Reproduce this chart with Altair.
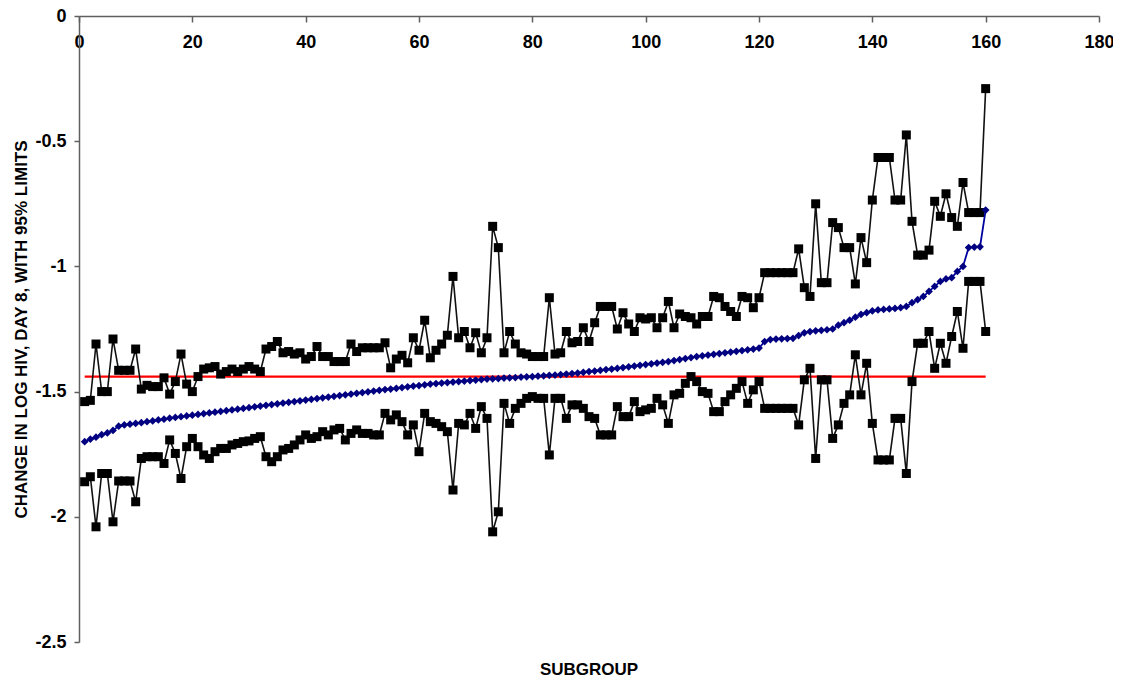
import altair as alt
import pandas as pd

# ---- data ----
subgroup = list(range(1, 161))

estimate = [
    -1.700, -1.690, -1.682, -1.672, -1.665, -1.655, -1.638, -1.633, -1.630, -1.627,
    -1.624, -1.620, -1.617, -1.613, -1.610, -1.606, -1.603, -1.600, -1.597, -1.594,
    -1.591, -1.588, -1.585, -1.582, -1.579, -1.576, -1.573, -1.570, -1.567, -1.564,
    -1.561, -1.558, -1.555, -1.552, -1.549, -1.546, -1.543, -1.540, -1.537, -1.534,
    -1.531, -1.528, -1.525, -1.522, -1.519, -1.516, -1.513, -1.510, -1.507, -1.504,
    -1.501, -1.498, -1.495, -1.492, -1.490, -1.487, -1.484, -1.481, -1.478, -1.476,
    -1.473, -1.470, -1.468, -1.466, -1.464, -1.462, -1.460, -1.458, -1.456, -1.454,
    -1.452, -1.450, -1.449, -1.448, -1.446, -1.445, -1.444, -1.442, -1.441, -1.440,
    -1.438, -1.437, -1.435, -1.434, -1.432, -1.430, -1.428, -1.426, -1.423, -1.420,
    -1.418, -1.415, -1.412, -1.410, -1.407, -1.404, -1.401, -1.398, -1.395, -1.392,
    -1.389, -1.386, -1.383, -1.380, -1.376, -1.372, -1.368, -1.364, -1.360, -1.357,
    -1.354, -1.351, -1.348, -1.345, -1.342, -1.339, -1.336, -1.333, -1.330, -1.326,
    -1.300, -1.292, -1.290, -1.289, -1.288, -1.287, -1.276, -1.265, -1.260, -1.257,
    -1.255, -1.253, -1.250, -1.235, -1.225, -1.215, -1.203, -1.192, -1.185, -1.178,
    -1.174, -1.172, -1.170, -1.168, -1.165, -1.160, -1.145, -1.133, -1.120, -1.100,
    -1.080, -1.060, -1.050, -1.045, -1.020, -1.000, -0.925, -0.923, -0.922, -0.775,
]

upper = [
    -1.54, -1.535, -1.31, -1.50, -1.50, -1.29, -1.415, -1.415, -1.415, -1.33,
    -1.49, -1.475, -1.48, -1.48, -1.445, -1.51, -1.46, -1.35, -1.47, -1.50,
    -1.44, -1.41, -1.405, -1.40, -1.43, -1.42, -1.41, -1.42, -1.41, -1.40,
    -1.41, -1.42, -1.33, -1.32, -1.30, -1.345, -1.34, -1.35, -1.345, -1.37,
    -1.36, -1.32, -1.36, -1.36, -1.38, -1.38, -1.38, -1.31, -1.34, -1.325,
    -1.325, -1.325, -1.325, -1.305, -1.405, -1.37, -1.355, -1.385, -1.285, -1.335,
    -1.215, -1.365, -1.335, -1.31, -1.275, -1.04, -1.285, -1.26, -1.325, -1.265,
    -1.345, -1.285, -0.84, -0.925, -1.345, -1.26, -1.31, -1.345, -1.35, -1.36,
    -1.36, -1.36, -1.125, -1.35, -1.345, -1.26, -1.305, -1.30, -1.245, -1.30,
    -1.225, -1.16, -1.16, -1.16, -1.25, -1.185, -1.23, -1.26, -1.205, -1.21,
    -1.205, -1.245, -1.205, -1.14, -1.245, -1.19, -1.20, -1.205, -1.23, -1.20,
    -1.20, -1.12, -1.125, -1.16, -1.18, -1.20, -1.12, -1.125, -1.165, -1.125,
    -1.025, -1.025, -1.025, -1.025, -1.025, -1.025, -0.93, -1.085, -1.12, -0.75,
    -1.065, -1.065, -0.825, -0.845, -0.925, -0.925, -1.07, -0.885, -0.985, -0.735,
    -0.565, -0.565, -0.565, -0.735, -0.735, -0.475, -0.82, -0.955, -0.955, -0.935,
    -0.74, -0.80, -0.71, -0.805, -0.84, -0.665, -0.785, -0.785, -0.785, -0.29,
]

lower = [
    -1.86, -1.84, -2.04, -1.827, -1.827, -2.02, -1.857, -1.857, -1.857, -1.94,
    -1.767, -1.76, -1.76, -1.76, -1.787, -1.693, -1.747, -1.847, -1.72, -1.687,
    -1.72, -1.753, -1.767, -1.74, -1.727, -1.727, -1.713, -1.707, -1.70, -1.697,
    -1.687, -1.68, -1.76, -1.78, -1.76, -1.733, -1.727, -1.713, -1.693, -1.673,
    -1.687, -1.68, -1.66, -1.673, -1.653, -1.647, -1.693, -1.667, -1.653, -1.667,
    -1.667, -1.673, -1.673, -1.587, -1.613, -1.593, -1.62, -1.673, -1.633, -1.74,
    -1.587, -1.62, -1.627, -1.64, -1.66, -1.893, -1.627, -1.633, -1.587, -1.647,
    -1.56, -1.607, -2.06, -1.98, -1.547, -1.627, -1.567, -1.547, -1.527, -1.52,
    -1.527, -1.527, -1.753, -1.527, -1.527, -1.607, -1.553, -1.553, -1.567, -1.60,
    -1.607, -1.673, -1.673, -1.673, -1.56, -1.60, -1.60, -1.54, -1.58, -1.573,
    -1.567, -1.527, -1.553, -1.627, -1.513, -1.507, -1.467, -1.44, -1.46, -1.50,
    -1.507, -1.58, -1.58, -1.54, -1.513, -1.487, -1.46, -1.547, -1.493, -1.46,
    -1.567, -1.567, -1.567, -1.567, -1.567, -1.567, -1.633, -1.453, -1.407, -1.767,
    -1.453, -1.453, -1.687, -1.633, -1.547, -1.513, -1.353, -1.513, -1.387, -1.627,
    -1.773, -1.773, -1.773, -1.607, -1.607, -1.827, -1.46, -1.307, -1.307, -1.26,
    -1.407, -1.307, -1.387, -1.28, -1.18, -1.327, -1.06, -1.06, -1.06, -1.26,
]

mean_x = [1, 160]
mean_y = [-1.44, -1.44]

x_ticks = [0, 20, 40, 60, 80, 100, 120, 140, 160, 180]
y_ticks = [0, -0.5, -1, -1.5, -2, -2.5]

# ---- tables ----
est_df = pd.DataFrame({"subgroup": subgroup, "value": estimate})
lim_df = pd.concat([
    pd.DataFrame({"subgroup": subgroup, "value": upper, "series": "upper"}),
    pd.DataFrame({"subgroup": subgroup, "value": lower, "series": "lower"}),
])
mean_df = pd.DataFrame({"subgroup": mean_x, "value": mean_y})

PLOT_W = 1020
PLOT_H = 626
LABEL_FONT = "Liberation Sans Narrow, Arial Narrow, Liberation Sans, Arial"
TITLE_FONT = "Liberation Sans, Arial"

x_enc = alt.X(
    "subgroup:Q",
    scale=alt.Scale(domain=[0, 180], nice=False, zero=False),
    axis=alt.Axis(
        orient="bottom", offset=-PLOT_H, values=x_ticks, tickSize=6,
        labelPadding=11, title=None, labelFlush=False,
    ),
)
y_enc = alt.Y(
    "value:Q",
    scale=alt.Scale(domain=[-2.5, 0], nice=False, zero=False),
    axis=alt.Axis(
        values=y_ticks, tickSize=5, labelPadding=8,
        labelExpr="toString(datum.value)",
        title="CHANGE IN LOG HIV, DAY 8, WITH 95% LIMITS",
        titleX=-58, titleY=PLOT_H / 2, titleAngle=270,
        titleBaseline="middle", titleAlign="center",
        titleFont=TITLE_FONT, titleFontSize=17, titleFontWeight="bold",
        titleColor="black",
    ),
)

red = alt.Chart(mean_df).mark_line(color="#ff0000", strokeWidth=2.2).encode(x=x_enc, y=y_enc)

lim_lines = alt.Chart(lim_df).mark_line(color="#111111", strokeWidth=1.6).encode(
    x=x_enc, y=y_enc, detail="series:N"
)
lim_pts = alt.Chart(lim_df).mark_point(
    shape="square", filled=True, size=81, color="black", opacity=1
).encode(x=x_enc, y=y_enc, detail="series:N")

est_line = alt.Chart(est_df).mark_line(color="#0000a0", strokeWidth=1.8).encode(x=x_enc, y=y_enc)
est_pts = alt.Chart(est_df).mark_point(
    shape="diamond", filled=True, size=60, color="#000080", opacity=1
).encode(x=x_enc, y=y_enc)

chart = (
    alt.layer(red, lim_lines, lim_pts, est_line, est_pts)
    .properties(
        width=PLOT_W,
        height=PLOT_H,
        autosize=alt.AutoSizeParams(type="none"),
        padding={"left": 71, "top": 8, "right": 14, "bottom": 36},
        title=alt.TitleParams(
            "SUBGROUP", orient="bottom", anchor="middle", offset=11,
            font=TITLE_FONT, fontSize=17, fontWeight="bold", color="black",
        ),
    )
    .configure_view(stroke=None)
    .configure_axis(
        grid=False,
        domainColor="#5f5f5f", domainWidth=1.5,
        tickColor="#5f5f5f", tickWidth=1.5,
        labelFont=LABEL_FONT, labelFontSize=18, labelFontWeight="bold",
        labelColor="black",
    )
)

chart.save("out.html", embed_options={"renderer": "svg", "actions": False})
